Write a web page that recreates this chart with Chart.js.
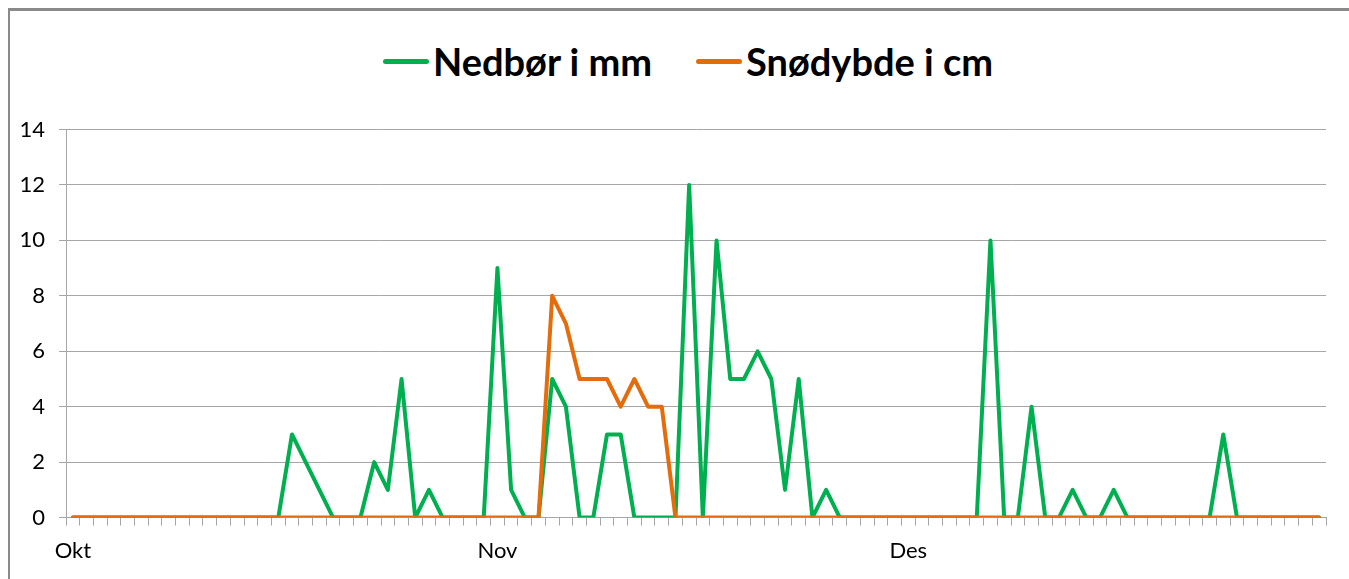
<!DOCTYPE html>
<html lang="no">
<head>
    <meta charset="UTF-8">
    <title>Nedbør og snødybde</title>
    <script src="https://cdn.jsdelivr.net/npm/chart.js"></script>
    <style>
        body {
            margin: 0;
            background: #fff;
            font-family: 'Lato', sans-serif;
        }
        .wrap {
            position: relative;
            width: 1349px;
            height: 579px;
            overflow: hidden;
        }
        .frame {
            position: absolute;
            left: 8px;
            top: 8px;
            right: -10px;
            bottom: -10px;
            border-top: 3px solid #8a8a8a;
            border-left: 2px solid #8a8a8a;
        }
        .legend {
            position: absolute;
            left: 383px;
            top: 38px;
            display: flex;
            align-items: center;
            font-weight: bold;
            font-size: 38px;
            color: #000;
        }
        .legend .item {
            display: flex;
            align-items: center;
            margin-right: 44px;
        }
        .legend .swatch {
            width: 46px;
            height: 5px;
            border-radius: 3px;
            margin-right: 4px;
        }
        canvas {
            position: absolute;
            left: 0;
            top: 0;
        }
    </style>
</head>
<body>
    <div class="wrap">
        <div class="frame"></div>
        <div class="legend" id="legend"></div>
        <canvas id="weatherChart" width="1349" height="579"></canvas>
    </div>

    <script>
        const months = ['Okt', 'Nov', 'Des'];
        const monthDays = [31, 30, 31];

        // nedbør (mm) per dag, 1. okt - 31. des
        const nedbor = [
            0, 0, 0, 0, 0, 0, 0, 0, 0, 0, 0, 0, 0, 0, 0, 0, 3, 2, 1, 0, 0, 0, 2, 1, 5, 0, 1, 0, 0, 0, 0,
            9, 1, 0, 0, 5, 4, 0, 0, 3, 3, 0, 0, 0, 0, 12, 0, 10, 5, 5, 6, 5, 1, 5, 0, 1, 0, 0, 0, 0, 0,
            0, 0, 0, 0, 0, 0, 10, 0, 0, 4, 0, 0, 1, 0, 0, 1, 0, 0, 0, 0, 0, 0, 0, 3, 0, 0, 0, 0, 0, 0, 0
        ];
        // snødybde (cm) per dag
        const snodybde = [
            0, 0, 0, 0, 0, 0, 0, 0, 0, 0, 0, 0, 0, 0, 0, 0, 0, 0, 0, 0, 0, 0, 0, 0, 0, 0, 0, 0, 0, 0, 0,
            0, 0, 0, 0, 8, 7, 5, 5, 5, 4, 5, 4, 4, 0, 0, 0, 0, 0, 0, 0, 0, 0, 0, 0, 0, 0, 0, 0, 0, 0,
            0, 0, 0, 0, 0, 0, 0, 0, 0, 0, 0, 0, 0, 0, 0, 0, 0, 0, 0, 0, 0, 0, 0, 0, 0, 0, 0, 0, 0, 0, 0
        ];

        const labels = [];
        const monthStart = {};
        months.forEach((m, mi) => {
            monthStart[labels.length] = m;
            for (let d = 1; d <= monthDays[mi]; d++) labels.push(d + '. ' + m);
        });

        const green = '#00b050';
        const orange = '#e46c0a';
        const gridColor = '#a6a6a6';
        const tickFont = { family: 'Lato', size: 22 };

        // orange first so it sits on top, legend reversed
        const datasets = [
            { label: 'Snødybde i cm', data: snodybde, borderColor: orange, backgroundColor: orange },
            { label: 'Nedbør i mm', data: nedbor, borderColor: green, backgroundColor: green }
        ];

        // simple legend above the chart
        const legendEl = document.getElementById('legend');
        datasets.slice().reverse().forEach(ds => {
            const item = document.createElement('div');
            item.className = 'item';
            item.innerHTML = '<span class="swatch" style="background:' + ds.borderColor + '"></span><span>' + ds.label + '</span>';
            legendEl.appendChild(item);
        });

        const ctx = document.getElementById('weatherChart').getContext('2d');
        new Chart(ctx, {
            type: 'line',
            data: {
                labels: labels,
                datasets: datasets.map(ds => Object.assign({
                    borderWidth: 4,
                    pointRadius: 0,
                    tension: 0,
                    borderJoinStyle: 'round',
                    borderCapStyle: 'round',
                    fill: false
                }, ds))
            },
            options: {
                responsive: false,
                animation: false,
                layout: { padding: { left: 5.5, right: 23, top: 129.5, bottom: 3 } },
                plugins: {
                    legend: { display: false },
                    tooltip: { enabled: false }
                },
                scales: {
                    x: {
                        offset: true,
                        grid: { offset: true, drawOnChartArea: false, tickLength: 8, color: gridColor },
                        border: { color: gridColor },
                        ticks: {
                            autoSkip: false,
                            maxRotation: 0,
                            padding: 12,
                            color: '#000',
                            font: tickFont,
                            callback: (v, i) => monthStart[i] || ''
                        }
                    },
                    y: {
                        min: 0,
                        max: 14,
                        grid: { tickLength: 7, color: gridColor },
                        border: { color: gridColor },
                        ticks: { stepSize: 2, padding: 14, color: '#000', font: tickFont }
                    }
                }
            }
        });
    </script>
</body>
</html>
